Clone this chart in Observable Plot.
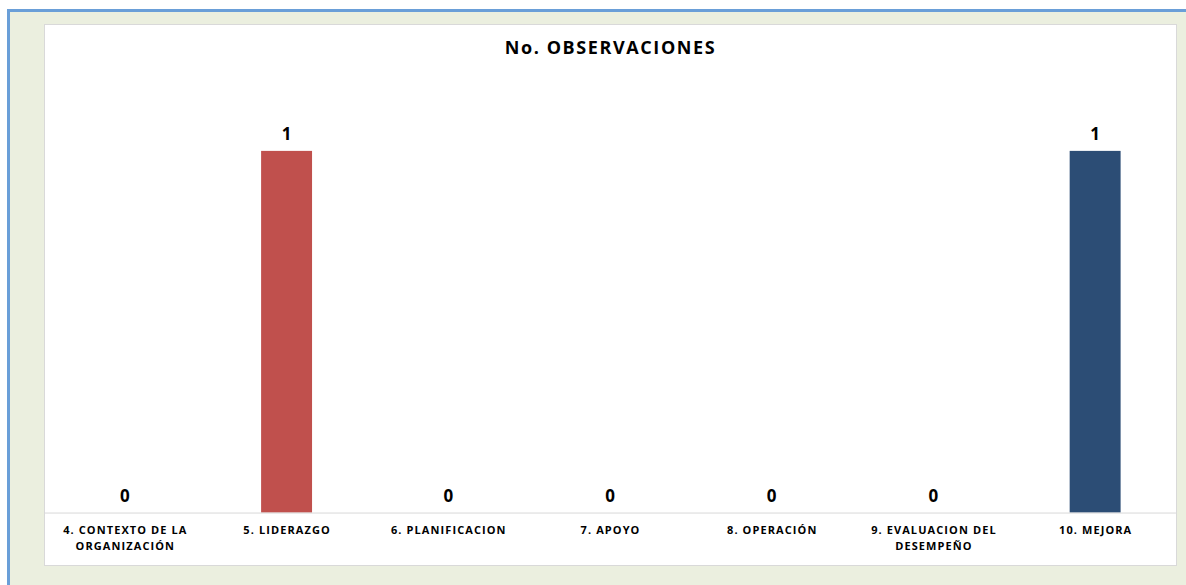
<!DOCTYPE html>
<html>
<head>
<meta charset="utf-8">
<script src="https://cdn.jsdelivr.net/npm/d3@7"></script>
<script src="https://cdn.jsdelivr.net/npm/@observablehq/plot@0.6"></script>
<style>
  html, body { margin: 0; padding: 0; background: #ffffff; }
  #outer { position: relative; width: 1186px; height: 585px; overflow: hidden; background: #ffffff; }
  #frame { position: absolute; left: 7px; top: 9px; width: 1190px; height: 590px;
           border-left: 3px solid #6A9FD8; border-top: 3px solid #6A9FD8; background: #EBEFDF; }
  #panel { position: absolute; left: 44px; top: 24px; width: 1131px; height: 540px;
           background: #ffffff; border: 1px solid #D9D9D9; }
  #title { position: absolute; left: 0; top: 10px; width: 100%; text-align: center;
           font-family: "Open Sans", sans-serif; font-weight: bold; font-size: 18px;
           letter-spacing: 1.6px; color: #000; }
  #chart { position: absolute; left: -1px; top: 0; }
  #chart g[aria-label="x-axis tick label"] text { letter-spacing: 1.1px; }
  #chart g[aria-label="text"] text { letter-spacing: 1px; }
</style>
</head>
<body>
<div id="outer">
  <div id="frame"></div>
  <div id="panel">
    <div id="title">No. OBSERVACIONES</div>
    <div id="chart"></div>
  </div>
</div>
<script>
const categories = [
  "4. CONTEXTO DE LA\nORGANIZACIÓN",
  "5. LIDERAZGO",
  "6. PLANIFICACION",
  "7. APOYO",
  "8. OPERACIÓN",
  "9. EVALUACION DEL\nDESEMPEÑO",
  "10. MEJORA"
];
const values = [0, 1, 0, 0, 0, 0, 1];
const barColors = ["#4F81BD", "#C0504D", "#9BBB59", "#8064A2", "#4BACC6", "#F79646", "#2C4D75"];

const data = categories.map((c, i) => ({category: c, value: values[i], color: barColors[i]}));

const chart = Plot.plot({
  width: 1133,
  height: 540,
  marginLeft: 0,
  marginRight: 0,
  marginTop: 126,
  marginBottom: 52,
  style: {background: "transparent", fontFamily: "Open Sans, sans-serif", overflow: "visible"},
  x: {domain: categories, paddingInner: 0.685, paddingOuter: 0.3425, round: false, axis: null},
  y: {domain: [0, 1], axis: null},
  marks: [
    Plot.barY(data, {x: "category", y: "value", fill: "color"}),
    Plot.ruleY([0], {stroke: "#D9D9D9", strokeWidth: 1}),
    Plot.text(data, {x: "category", y: "value", text: d => String(d.value), dy: -17,
      fontSize: 17, fontWeight: "bold", fill: "#000"}),
    Plot.axisX({domain: categories, tickSize: 0, tickPadding: 10, fontSize: 11, fontWeight: "bold",
      lineHeight: 1.45, fill: "#000", label: null})
  ]
});
document.getElementById("chart").appendChild(chart);
</script>
</body>
</html>
